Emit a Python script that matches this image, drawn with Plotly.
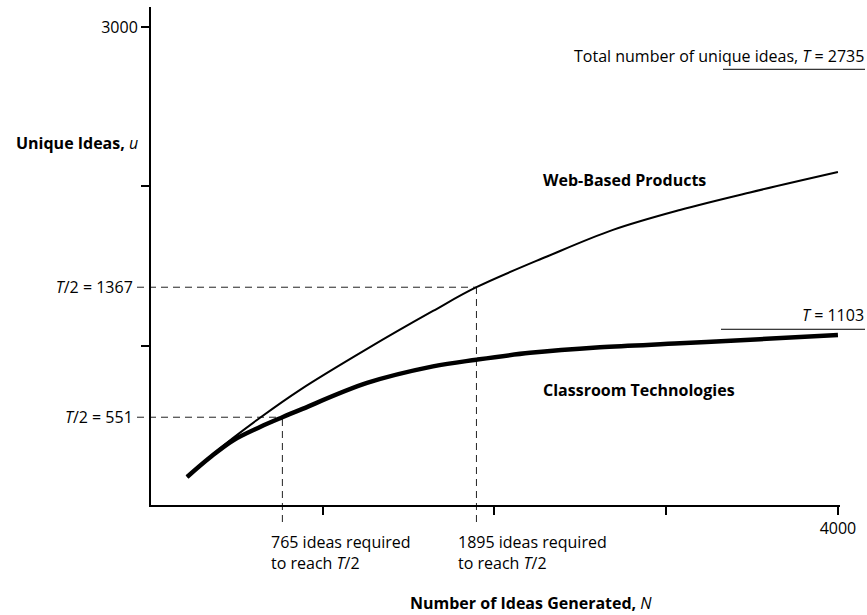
import plotly.graph_objects as go

# ---- data ----
N_web = [210, 343, 477, 635, 868, 1258, 1642, 1895, 2306, 2690, 3080, 3488, 4000]
u_web = [176, 301, 420, 548, 723, 980, 1218, 1367, 1560, 1727, 1852, 1962, 2090]

N_class = [210, 343, 477, 635, 765, 868, 1258, 1642, 1895, 2207, 2614, 3080, 3546, 4000]
u_class = [176, 298, 405, 490, 551, 597, 766, 870, 912, 955, 990, 1015, 1041, 1067]

T_web = 2735
T_class = 1103
half_web = 1367
half_class = 551
N_half_web = 1895
N_half_class = 765

y_ticks = [1000, 2000, 3000]
y_tick_text = ["", "", "3000"]
x_ticks = [1000, 2000, 3000, 4000]
x_tick_text = ["", "", "", "4000"]

# ---- layout geometry ----
W, H = 867, 615
ML, MR, MT, MB = 151, 27, 7, 110
PW, PH = W - ML - MR, H - MT - MB
X_MAX = 4012
Y_MAX = 3126
FONT = "Open Sans"
FS = 16


def px_x(x):
    return (x - ML) / PW


def px_y(y):
    return (H - MB - y) / PH


fig = go.Figure()
fig.add_trace(go.Scatter(x=N_web, y=u_web, mode="lines", line=dict(color="black", width=2, shape="spline"),
                         showlegend=False, hoverinfo="skip"))
fig.add_trace(go.Scatter(x=N_class, y=u_class, mode="lines", line=dict(color="black", width=4.5, shape="spline"),
                         showlegend=False, hoverinfo="skip"))
# invisible trace for the secondary y axis labels
fig.add_trace(go.Scatter(x=[None], y=[None], yaxis="y2", showlegend=False, hoverinfo="skip"))

dash = dict(color="#222", width=1, dash="7px,5px")
shapes = []
for N_h, u_h in [(N_half_class, half_class), (N_half_web, half_web)]:
    shapes.append(dict(type="line", xref="paper", yref="y", x0=-14 / PW, x1=N_h / X_MAX, y0=u_h, y1=u_h,
                       line=dash, layer="below"))
    shapes.append(dict(type="line", xref="x", yref="paper", x0=N_h, x1=N_h, y0=-17 / PH, y1=u_h / Y_MAX,
                       line=dash, layer="below"))
shapes.append(dict(type="line", xref="paper", yref="y", x0=px_x(723), x1=px_x(865), y0=T_web, y1=T_web,
                   line=dict(color="black", width=1)))
shapes.append(dict(type="line", xref="paper", yref="y", x0=px_x(721), x1=px_x(865), y0=T_class, y1=T_class,
                   line=dict(color="black", width=1)))

ann = []
base = dict(showarrow=False, font=dict(family=FONT, size=FS, color="black"))
ann.append(dict(text="<b>Unique Ideas, </b><i>u</i>", xref="paper", yref="paper", x=px_x(140), y=px_y(143),
                xanchor="right", yanchor="middle", **base))
ann.append(dict(text="<b>Web-Based Products</b>", xref="paper", yref="paper", x=px_x(541), y=px_y(180),
                xanchor="left", yanchor="middle", **base))
ann.append(dict(text="<b>Classroom Technologies</b>", xref="paper", yref="paper", x=px_x(541), y=px_y(390),
                xanchor="left", yanchor="middle", **base))
ann.append(dict(text="Total number of unique ideas, <i>T</i> = %d" % T_web, xref="paper", yref="y",
                x=px_x(866), y=T_web, xanchor="right", yanchor="bottom", **base))
ann.append(dict(text="<i>T</i> = %d" % T_class, xref="paper", yref="y",
                x=px_x(866), y=T_class, xanchor="right", yanchor="bottom", yshift=1, **base))
ann.append(dict(text="%d ideas required<br>to reach <i>T</i>/2" % N_half_class, xref="x", yref="paper",
                x=N_half_class, xshift=-13, y=px_y(552), xanchor="left", yanchor="middle", align="left", **base))
ann.append(dict(text="%d ideas required<br>to reach <i>T</i>/2" % N_half_web, xref="x", yref="paper",
                x=N_half_web, xshift=-20, y=px_y(552), xanchor="left", yanchor="middle", align="left", **base))
ann.append(dict(text="<b>Number of Ideas Generated, </b><i>N</i>", xref="paper", yref="paper",
                x=px_x(408), y=px_y(603), xanchor="left", yanchor="middle", **base))

fig.update_layout(
    width=W, height=H, margin=dict(l=ML, r=MR, t=MT, b=MB, pad=0),
    plot_bgcolor="white", paper_bgcolor="white",
    font=dict(family=FONT, size=FS, color="black"),
    xaxis=dict(range=[0, X_MAX], showgrid=False, zeroline=False, showline=True, linecolor="black", linewidth=2,
               ticks="outside", ticklen=8, tickwidth=2, tickcolor="black", tickvals=x_ticks, ticktext=x_tick_text,
               tickfont=dict(family=FONT, size=FS)),
    yaxis=dict(range=[0, Y_MAX], showgrid=False, zeroline=False, showline=True, linecolor="black", linewidth=2,
               ticks="outside", ticklen=8, tickwidth=2, tickcolor="black", tickvals=y_ticks, ticktext=y_tick_text,
               tickfont=dict(family=FONT, size=FS)),
    yaxis2=dict(range=[0, Y_MAX], overlaying="y", side="left", showgrid=False, zeroline=False, showline=False,
                ticks="outside", ticklen=14, tickcolor="rgba(0,0,0,0)", tickvals=[half_class, half_web],
                ticktext=["<i>T</i>/2 = %d" % half_class, "<i>T</i>/2 = %d" % half_web],
                tickfont=dict(family=FONT, size=FS)),
    shapes=shapes, annotations=ann,
)

fig.write_html("out.html", config={"displayModeBar": False},
               post_script="document.body.style.margin='0';document.body.style.overflow='hidden';")
